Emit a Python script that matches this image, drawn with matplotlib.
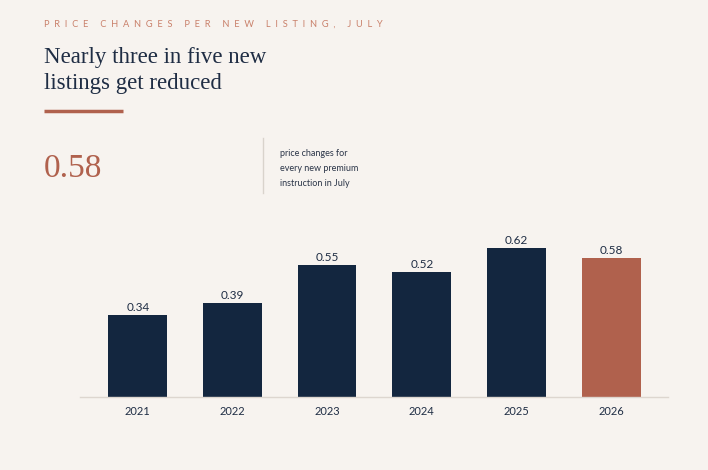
import matplotlib.pyplot as plt

# data
years = ['2021', '2022', '2023', '2024', '2025', '2026']
values = [0.34, 0.39, 0.55, 0.52, 0.62, 0.58]
highlight = '2026'

bg = '#f7f3ef'
navy = '#13263f'
rust = '#b0614d'
txt = '#1f2d44'

fig = plt.figure(figsize=(7.08, 4.70), dpi=100, facecolor=bg)

# header texts
kicker = 'PRICE CHANGES PER NEW LISTING, JULY'
spaced = '  '.join(kicker)
fig.text(44 / 708, 1 - 24 / 470, spaced, fontsize=6.65, color='#c9806a',
         family='Lato', va='center', ha='left')
fig.text(44 / 708, 1 - 63 / 470, 'Nearly three in five new', fontsize=16.5,
         color=txt, family='Liberation Serif', va='baseline')
fig.text(44 / 708, 1 - 89 / 470, 'listings get reduced', fontsize=16.5,
         color=txt, family='Liberation Serif', va='baseline')
fig.add_artist(plt.Line2D([44 / 708, 123 / 708], [1 - 111 / 470] * 2,
                          color=rust, lw=2.5, solid_capstyle='butt'))

fig.text(44 / 708, 1 - 177 / 470, '0.58', fontsize=24, color=rust,
         family='Liberation Serif', va='baseline')
fig.add_artist(plt.Line2D([263 / 708] * 2, [1 - 138 / 470, 1 - 193 / 470],
                          color='#d9d3cc', lw=1))
for i, line in enumerate(['price changes for', 'every new premium',
                          'instruction in July']):
    fig.text(280 / 708, 1 - (153 + i * 15) / 470, line, fontsize=6.5,
             color='#2b3548', family='Lato', va='center')

# bar chart
ax = fig.add_axes([80 / 708, 73 / 470, 588 / 708, 168 / 470])
ax.set_facecolor(bg)
colors = [rust if y == highlight else navy for y in years]
x = list(range(len(years)))
bars = ax.bar(x, values, width=0.62, color=colors)
for xi, v in zip(x, values):
    ax.text(xi, v + 0.008, f'{v:.2f}', ha='center', va='bottom',
            fontsize=8.5, color=txt, family='Lato')
ax.set_xlim(-0.61, 5.6)
ax.set_ylim(0, 0.7)
ax.set_xticks(x, years)
ax.tick_params(axis='x', length=0, pad=6.5, labelsize=8, labelcolor=txt)
for lab in ax.get_xticklabels():
    lab.set_family('Lato')
ax.set_yticks([])
for s in ['top', 'right', 'left']:
    ax.spines[s].set_visible(False)
ax.spines['bottom'].set_color('#ddd6cf')
ax.spines['bottom'].set_linewidth(1)

fig.savefig('out.png', dpi=100, facecolor=bg)
